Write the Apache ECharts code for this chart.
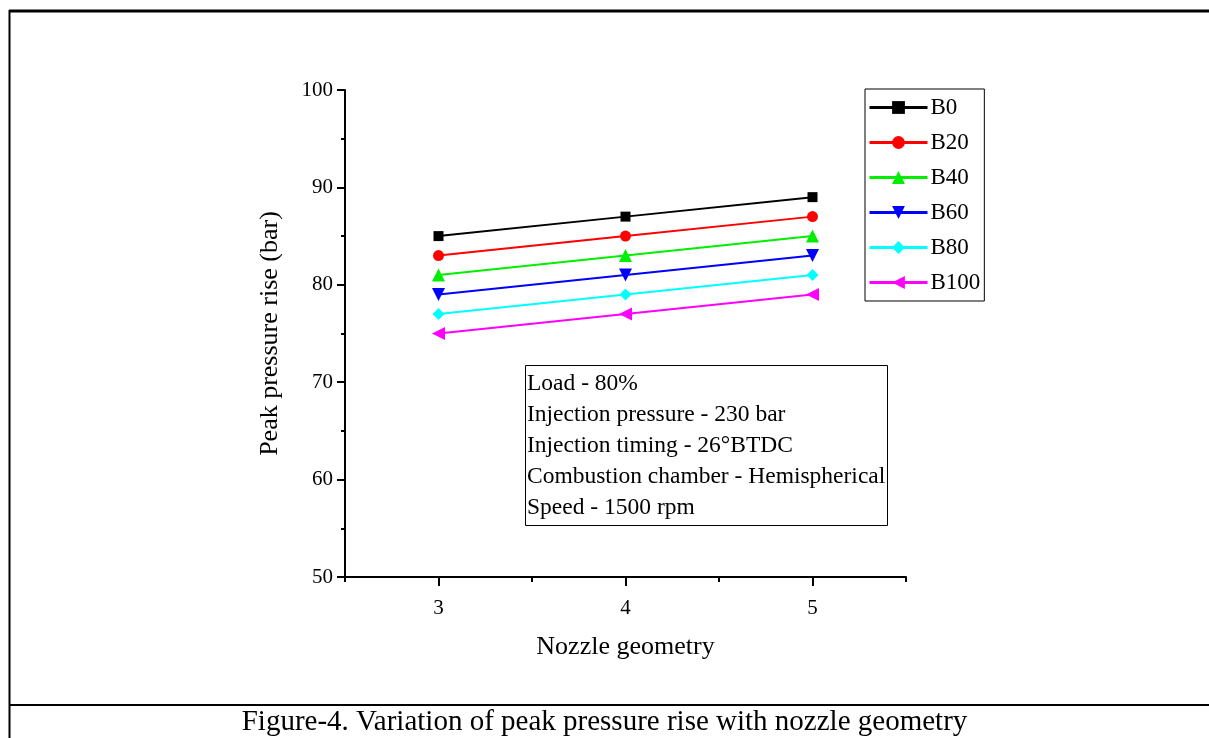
<!DOCTYPE html>
<html>
<head>
<meta charset="utf-8">
<script src="https://cdn.jsdelivr.net/npm/echarts@6/dist/echarts.min.js"></script>
<style>
html, body { margin: 0; padding: 0; background: #fff; }
#main { width: 1209px; height: 738px; }
</style>
</head>
<body>
<div id="main"></div>
<script>
var chartDom = document.getElementById('main');
var myChart = echarts.init(chartDom, null, { renderer: 'canvas' });

// 数据
var nozzle = [3, 4, 5];
var seriesNames = ['B0', 'B20', 'B40', 'B60', 'B80', 'B100'];
var b0 = [85, 87, 89];
var b20 = [83, 85, 87];
var b40 = [81, 83, 85];
var b60 = [79, 81, 83];
var b80 = [77, 79, 81];
var b100 = [75, 77, 79];
var xLabels = [3, 4, 5];
var noteLines = [
    'Load - 80%',
    'Injection pressure - 230 bar',
    'Injection timing - 26°BTDC',
    'Combustion chamber - Hemispherical',
    'Speed - 1500 rpm'
];

var fontFam = '"Liberation Serif", "DejaVu Serif", serif';
var colors = ['#000000', '#ff0000', '#00ee00', '#0000ff', '#00ffff', '#ff00ff'];
var symbols = ['rect', 'circle', 'triangle', 'triangle', 'diamond', 'triangle'];
var rotates = [0, 0, 0, 180, 0, 90];
var sizes = [10, 11, 13, 13, 12, 13];
var values = [b0, b20, b40, b60, b80, b100];

function pairs(arr) {
    return nozzle.map(function (x, i) { return [x, arr[i]]; });
}

var series = seriesNames.map(function (name, k) {
    return {
        name: name,
        type: 'line',
        data: pairs(values[k]),
        symbol: symbols[k],
        symbolRotate: rotates[k],
        symbolSize: sizes[k],
        showAllSymbol: true,
        lineStyle: { color: colors[k], width: 2 },
        itemStyle: { color: colors[k] },
        animation: false
    };
});

option = {
    backgroundColor: '#fff',
    textStyle: { fontFamily: fontFam },
    grid: { left: 345, top: 90, right: 303, bottom: 161 },
    xAxis: [{
        type: 'value',
        min: 2.5,
        max: 5.5,
        interval: 0.5,
        name: 'Nozzle geometry',
        nameLocation: 'middle',
        nameGap: 57,
        nameTextStyle: { fontSize: 26, color: '#000', fontFamily: fontFam },
        axisLine: { lineStyle: { color: '#000', width: 2 } },
        axisTick: { length: 5, lineStyle: { color: '#000', width: 2 } },
        axisLabel: { customValues: xLabels, margin: 21, fontSize: 21, color: '#000', fontFamily: fontFam },
        splitLine: { show: false }
    }, {
        // 主刻度
        type: 'value',
        position: 'bottom',
        min: 2.5,
        max: 5.5,
        interval: 0.5,
        axisLine: { show: false },
        axisTick: { customValues: xLabels, length: 9, lineStyle: { color: '#000', width: 2 } },
        axisLabel: { show: false },
        splitLine: { show: false }
    }],
    yAxis: {
        type: 'value',
        min: 50,
        max: 100,
        interval: 10,
        name: 'Peak pressure rise (bar)',
        nameLocation: 'middle',
        nameGap: 62,
        nameTextStyle: { fontSize: 26, color: '#000', fontFamily: fontFam },
        axisLine: { show: true, lineStyle: { color: '#000', width: 2 } },
        axisTick: { show: true, length: 8, lineStyle: { color: '#000', width: 2 } },
        minorTick: { show: true, splitNumber: 2, length: 4, lineStyle: { color: '#000', width: 2 } },
        axisLabel: { margin: 12, fontSize: 21, color: '#000', fontFamily: fontFam },
        splitLine: { show: false }
    },
    legend: {
        orient: 'vertical',
        left: 865,
        top: 89,
        data: seriesNames,
        itemWidth: 58,
        itemHeight: 16,
        itemGap: 12,
        padding: [7, 4, 7, 3],
        borderColor: '#000',
        borderWidth: 1,
        lineStyle: { width: 3 },
        textStyle: { fontSize: 23, lineHeight: 23, color: '#000', fontFamily: fontFam, padding: [0, 0, 0, -2] }
    },
    title: {
        text: noteLines.join('\n'),
        left: 525,
        top: 365,
        padding: [3, 2, 3, 2],
        borderColor: '#000',
        borderWidth: 1,
        textStyle: { fontSize: 23.5, lineHeight: 31, fontWeight: 'normal', color: '#000', fontFamily: fontFam }
    },
    graphic: [
        { type: 'line', shape: { x1: 9, y1: 11, x2: 1209, y2: 11 }, style: { stroke: '#000', lineWidth: 3 } },
        { type: 'line', shape: { x1: 9.5, y1: 10, x2: 9.5, y2: 738 }, style: { stroke: '#000', lineWidth: 2 } },
        { type: 'line', shape: { x1: 9, y1: 705, x2: 1209, y2: 705 }, style: { stroke: '#000', lineWidth: 2 } },
        {
            type: 'text',
            left: 'center',
            top: 708,
            style: {
                text: 'Figure-4. Variation of peak pressure rise with nozzle geometry',
                font: '29px ' + fontFam,
                fill: '#000'
            }
        }
    ],
    series: series
};

myChart.setOption(option);
</script>
</body>
</html>
